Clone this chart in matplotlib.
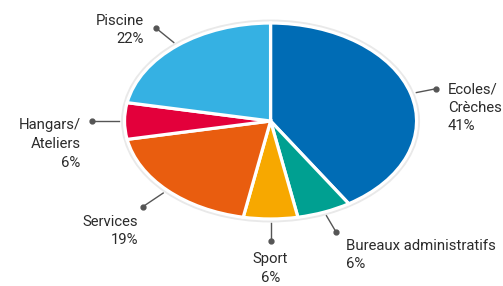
import numpy as np
import matplotlib
matplotlib.use("Agg")
import matplotlib.pyplot as plt
from matplotlib.patches import Circle

# Data
categories = ["Ecoles/\nCrèches", "Bureaux administratifs", "Sport", "Services", "Hangars/\nAteliers", "Piscine"]
values = [41, 6, 6, 19, 6, 22]
colors = ["#006cb5", "#00a091", "#f7a800", "#e95d0f", "#e3003b", "#35b1e3"]

# label layout: (dot radius, dx px, dy px, ha)
label_layout = [(1.18, 12, -19, "left"), (1.22, 10, -23, "left"), (1.22, 0, -28, "center"),
                (1.24, -4, -24, "right"), (1.22, -12, -23, "right"), (1.23, -12, -2, "right")]

plt.rcParams['font.family'] = ['Roboto', 'DejaVu Sans']

fig = plt.figure(figsize=(5.03, 2.86), dpi=100)
ax = fig.add_axes([0, 0, 1, 1])

ring = Circle((0, 0), 1.0, facecolor="none", edgecolor="#e9e9e9", lw=5.0, zorder=0)
ax.add_patch(ring)

wedges, _ = ax.pie(values, colors=colors, startangle=90, counterclock=False,
                   wedgeprops=dict(edgecolor="white", linewidth=2.3), radius=1.0)
for w in wedges:
    w.set_zorder(1)

ax.set_aspect('auto')
ax.set_xlim(-1.853, 1.592)
ax.set_ylim(-1.684, 1.235)
ax.axis('off')

for w, lab, v, (r1, dx, dy, ha) in zip(wedges, categories, values, label_layout):
    mid = np.deg2rad((w.theta1 + w.theta2) / 2)
    c, s = np.cos(mid), np.sin(mid)
    r0 = 1.04
    ax.plot([r0 * c, r1 * c], [r0 * s, r1 * s], color="#555555", lw=1.0, zorder=3)
    ax.plot([r1 * c], [r1 * s], 'o', color="#555555", ms=3.5, zorder=3)
    ax.annotate(f"{lab}\n{v}%", xy=(r1 * c, r1 * s), xytext=(dx, dy),
                textcoords="offset pixels", ha=ha, va="center",
                fontsize=10.7, color="#2b2b2b", linespacing=1.42)

fig.savefig("out.png", dpi=100)
